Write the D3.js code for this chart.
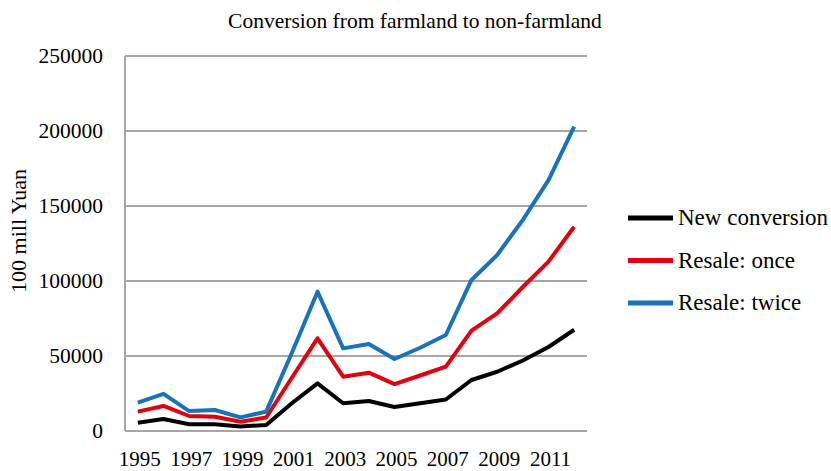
<!DOCTYPE html>
<html>
<head>
<meta charset="utf-8">
<script src="https://cdn.jsdelivr.net/npm/d3@7"></script>
<style>
  body { margin: 0; background: #fff; }
  text { font-family: "Liberation Serif", "Times New Roman", serif; fill: #000; }
</style>
</head>
<body>
<div id="chart"></div>
<script>
const years = d3.range(1995, 2013);
const yearLabels = [1995, 1997, 1999, 2001, 2003, 2005, 2007, 2009, 2011];
const newConversion = [5500, 8000, 4500, 4500, 3000, 4000, 18500, 31800, 18500, 20000, 16000, 18500, 21000, 34000, 39500, 47000, 56000, 67500];
const resaleOnce = [12900, 16700, 10000, 9500, 6200, 9000, 35500, 61800, 36200, 38900, 31300, 37000, 42900, 66900, 78400, 96000, 112900, 136200];
const resaleTwice = [18900, 24700, 13300, 14000, 9100, 12900, 52000, 92900, 55100, 58000, 48000, 55500, 64000, 100700, 117300, 140700, 167300, 202900];
const seriesNames = ["New conversion", "Resale: once", "Resale: twice"];
const seriesColors = ["#000000", "#e3000f", "#1a72b8"];
const yTicks = [0, 50000, 100000, 150000, 200000, 250000];

const width = 831, height = 471;
const margin = {left: 125, right: 244, top: 56, bottom: 40};

const svg = d3.select("#chart").append("svg")
    .attr("width", width)
    .attr("height", height);

const x = d3.scaleBand()
    .domain(years)
    .range([margin.left, width - margin.right]);
const y = d3.scaleLinear()
    .domain([0, 250000])
    .range([height - margin.bottom, margin.top]);

// grid
svg.append("g")
    .selectAll("line")
    .data(yTicks)
    .join("line")
    .attr("x1", margin.left)
    .attr("x2", width - margin.right)
    .attr("y1", d => y(d))
    .attr("y2", d => y(d))
    .attr("stroke", "#a6a6a6")
    .attr("stroke-width", 2);

svg.append("line")
    .attr("x1", margin.left).attr("x2", margin.left)
    .attr("y1", y(250000)).attr("y2", y(0))
    .attr("stroke", "#a6a6a6")
    .attr("stroke-width", 2);

// y ticks
svg.append("g")
    .selectAll("text")
    .data(yTicks)
    .join("text")
    .attr("x", 103)
    .attr("y", d => y(d) + 7)
    .attr("text-anchor", "end")
    .style("font-size", "21.5px")
    .text(d => d);

// x ticks
svg.append("g")
    .selectAll("text")
    .data(yearLabels)
    .join("text")
    .attr("x", d => x(d) + x.bandwidth() / 2 + 2)
    .attr("y", 466)
    .attr("text-anchor", "middle")
    .style("font-size", "21px")
    .text(d => d);

// titles
svg.append("text")
    .attr("x", 415)
    .attr("y", 28)
    .attr("text-anchor", "middle")
    .style("font-size", "21.5px")
    .text("Conversion from farmland to non-farmland");

svg.append("text")
    .attr("transform", "translate(26,231) rotate(-90)")
    .attr("text-anchor", "middle")
    .style("font-size", "22px")
    .text("100 mill Yuan");

// lines
const allSeries = [newConversion, resaleOnce, resaleTwice];
const line = d3.line()
    .x((d, i) => x(years[i]) + x.bandwidth() / 2)
    .y(d => y(d));

svg.append("g")
    .selectAll("path")
    .data(allSeries)
    .join("path")
    .attr("d", d => line(d))
    .attr("fill", "none")
    .attr("stroke", (d, i) => seriesColors[i])
    .attr("stroke-width", 4)
    .attr("stroke-linejoin", "round");

// legend
const legend = svg.append("g")
    .selectAll("g")
    .data(seriesNames)
    .join("g")
    .attr("transform", (d, i) => `translate(628,${218 + i * 42.5})`);

legend.append("line")
    .attr("x1", 0).attr("x2", 45)
    .attr("stroke", (d, i) => seriesColors[i])
    .attr("stroke-width", 5);

legend.append("text")
    .attr("x", 50)
    .attr("y", 7)
    .style("font-size", "23px")
    .text(d => d);
</script>
</body>
</html>
